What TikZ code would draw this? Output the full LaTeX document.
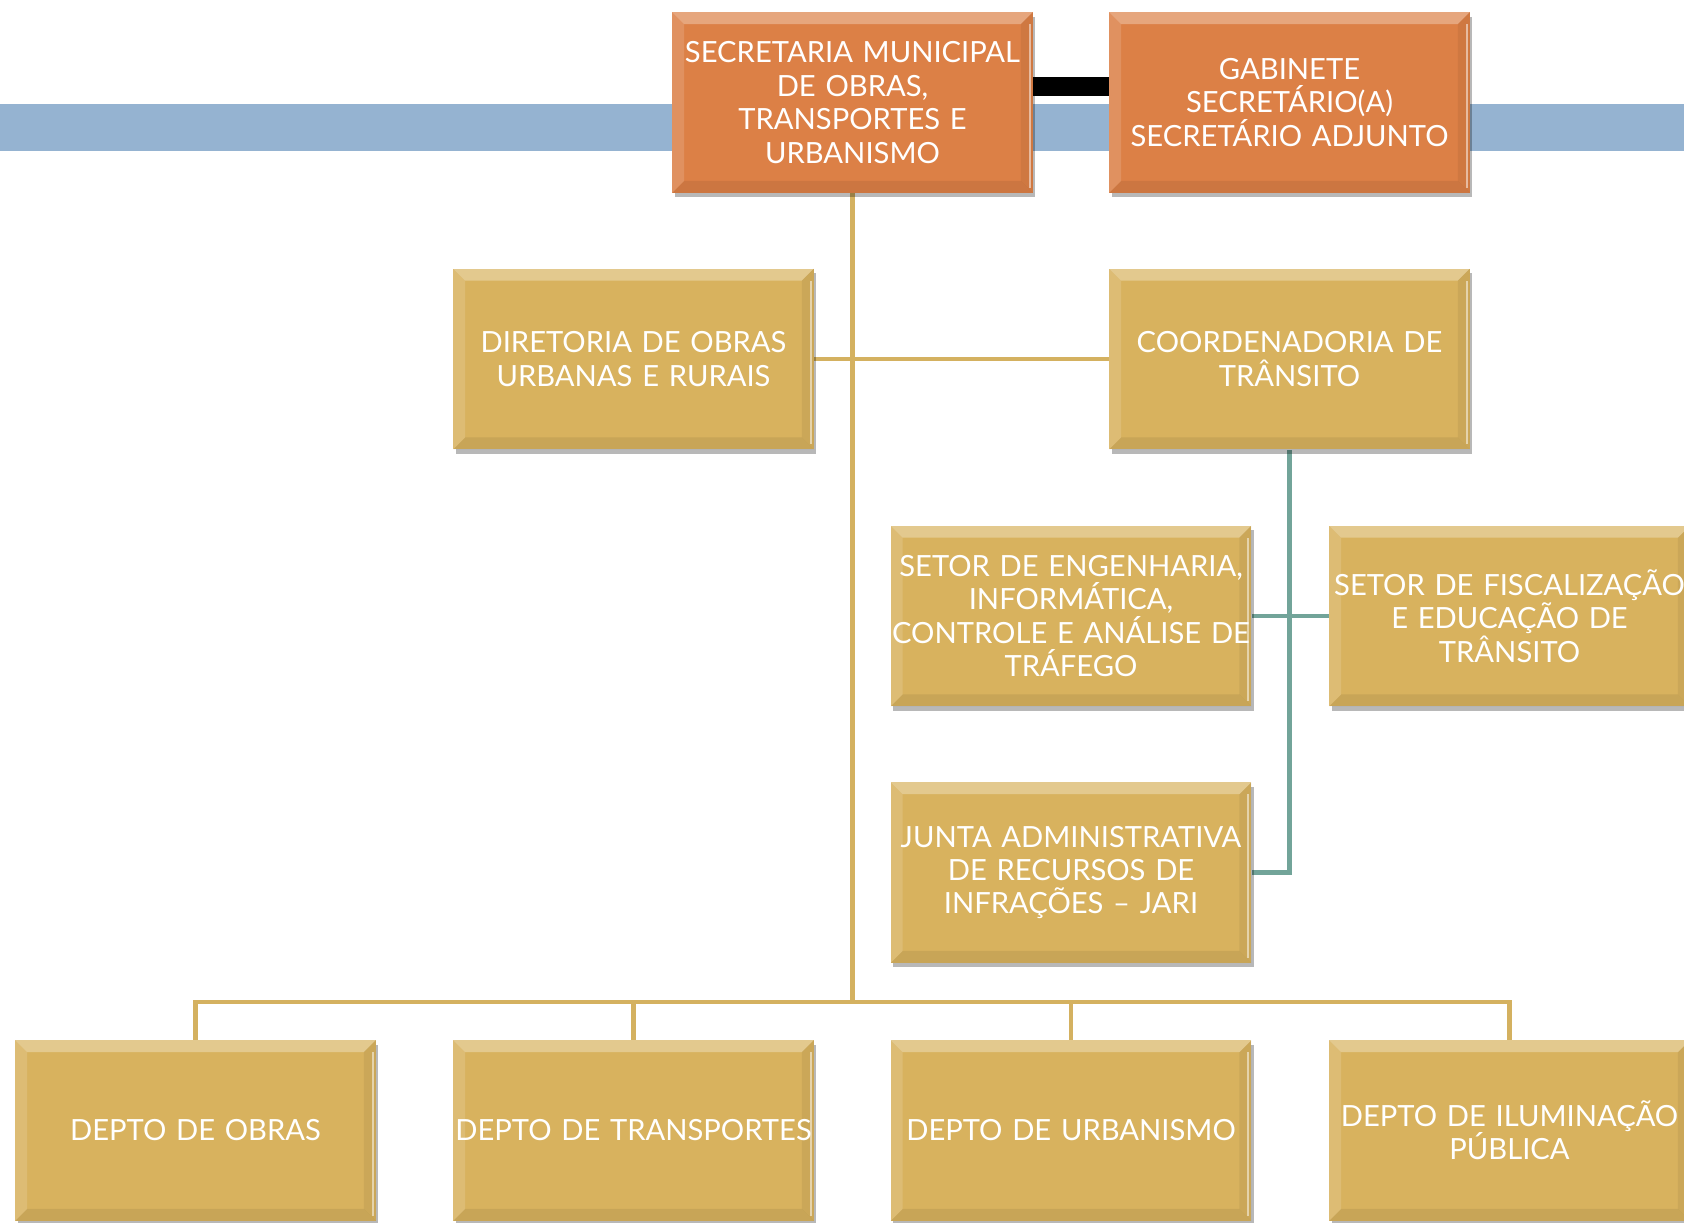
\documentclass[tikz,border=0pt]{standalone}
\usepackage{fontspec}
\setmainfont{Lato}
\usetikzlibrary{shadows,calc}
\pgfdeclarelayer{background}
\pgfsetlayers{background,main}
\definecolor{gold}{HTML}{D8B25E}
\definecolor{orng}{HTML}{DC8046}
\definecolor{bandc}{HTML}{95B3D1}
\definecolor{goldline}{HTML}{D4B160}
\definecolor{tealc}{HTML}{72A499}
\tikzset{
  bevel/.style={path picture={
    \def\bb{path picture bounding box}
    \fill[white,opacity=0.30] (\bb.north west) -- (\bb.north east) -- ([shift={(-0.24cm,-0.24cm)}]\bb.north east) -- ([shift={(0.24cm,-0.24cm)}]\bb.north west) -- cycle;
    \fill[white,opacity=0.14] (\bb.north west) -- ([shift={(0.24cm,-0.24cm)}]\bb.north west) -- ([shift={(0.24cm,0.24cm)}]\bb.south west) -- (\bb.south west) -- cycle;
    \fill[black,opacity=0.06] (\bb.north east) -- ([shift={(-0.24cm,-0.24cm)}]\bb.north east) -- ([shift={(-0.24cm,0.24cm)}]\bb.south east) -- (\bb.south east) -- cycle;
    \fill[black,opacity=0.07] (\bb.south west) -- ([shift={(0.24cm,0.24cm)}]\bb.south west) -- ([shift={(-0.24cm,0.24cm)}]\bb.south east) -- (\bb.south east) -- cycle;
    \fill[white,opacity=0.5] ([shift={(-0.08cm,-0.24cm)}]\bb.north east) rectangle ([shift={(-0.04cm,0.1cm)}]\bb.south east);
  }},
  box/.style={draw=none, minimum width=7.22cm, minimum height=3.62cm, text width=7.2cm,
    align=center, text=white, font=\fontsize{16.6}{19}\selectfont, inner sep=0pt, bevel,
    drop shadow={shadow xshift=0.05cm, shadow yshift=-0.09cm, opacity=0.28, fill=black}},
  goldbox/.style={box, fill=gold},
  orangebox/.style={box, fill=orng},
  goldlink/.style={draw=goldline, line width=2.3pt},
  teallink/.style={draw=tealc, line width=2.3pt}
}
\begin{document}
\begin{tikzpicture}[x=0.02cm,y=-0.02cm]
\useasboundingbox (0,0) rectangle (1684,1223);
\clip (0,0) rectangle (1684,1223);

\node[orangebox] (sec) at (852.5,102.5) {SECRETARIA MUNICIPAL\\DE OBRAS,\\TRANSPORTES E\\URBANISMO};
\node[orangebox] (gab) at (1289.5,102.5) {GABINETE\\SECRETÁRIO(A)\\SECRETÁRIO ADJUNTO};
\node[goldbox] (dir) at (633.5,359) {DIRETORIA DE OBRAS\\URBANAS E RURAIS};
\node[goldbox] (coord) at (1289.5,359) {COORDENADORIA DE\\TRÂNSITO};
\node[goldbox] (eng) at (1071,616) {SETOR DE ENGENHARIA,\\INFORMÁTICA,\\CONTROLE E ANÁLISE DE\\TRÁFEGO};
\node[goldbox] (fisc) at (1509.5,616) {SETOR DE FISCALIZAÇÃO\\E EDUCAÇÃO DE\\TRÂNSITO};
\node[goldbox] (junta) at (1071,872.5) {JUNTA ADMINISTRATIVA\\DE RECURSOS DE\\INFRAÇÕES – JARI};
\node[goldbox] (d1) at (195.5,1130.5) {DEPTO DE OBRAS};
\node[goldbox] (d2) at (633.5,1130.5) {DEPTO DE TRANSPORTES};
\node[goldbox] (d3) at (1071,1130.5) {DEPTO DE URBANISMO};
\node[goldbox] (d4) at (1509.5,1130.5) {DEPTO DE ILUMINAÇÃO\\PÚBLICA};

\coordinate (bus) at (852.5,1002);
\coordinate (bandl) at (0,127.5);
\coordinate (bandr) at (1684,127.5);

\begin{pgfonlayer}{background}
  \draw[bandc, line width=0.94cm] (bandl) -- (bandr);
  \draw[black, line width=0.38cm] ([yshift=0.32cm]sec.east) -- ([yshift=0.32cm]gab.west);
  \draw[goldlink] (sec.south) -- (bus);
  \draw[goldlink] (dir.east) -- (coord.west);
  \draw[goldlink] (d1.north) |- (bus) -| (d4.north);
  \draw[goldlink] (d2.north) -- (d2.north |- bus);
  \draw[goldlink] (d3.north) -- (d3.north |- bus);
  \draw[teallink] (coord.south) |- (junta.east);
  \draw[teallink] (eng.east) -- (fisc.west);
\end{pgfonlayer}
\end{tikzpicture}
\end{document}
